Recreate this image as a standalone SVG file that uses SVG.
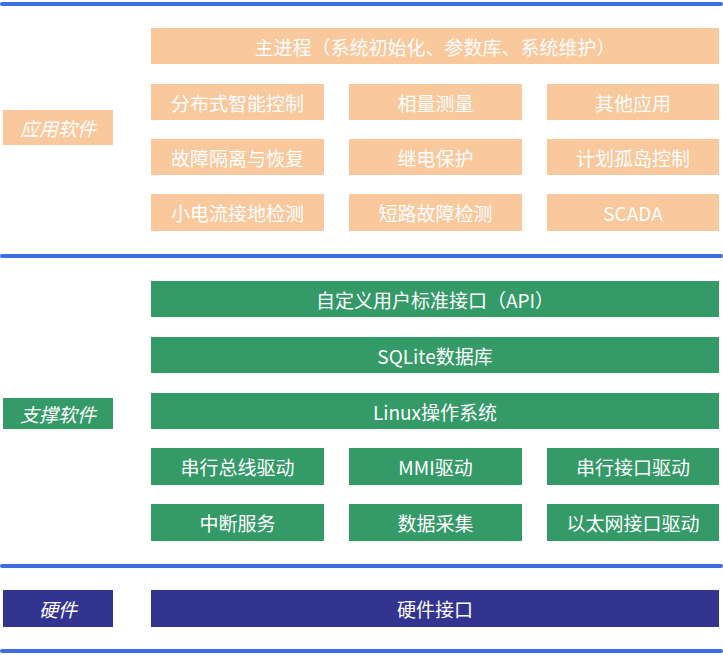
<svg xmlns="http://www.w3.org/2000/svg" width="723" height="655" viewBox="0 0 723 655">
<style>
.o{fill:#f9c89c}.g{fill:#349a68}.n{fill:#33348f}
.t{fill:#fff;font-family:"Noto Sans CJK SC","Liberation Sans",sans-serif;font-size:19px;text-anchor:middle;dominant-baseline:central}
.i{font-style:italic}
.l{stroke:#3d6fe0;stroke-width:4;stroke-linecap:round}
</style>
<g id="lines"><line class="l" x1="2" y1="4" x2="721" y2="4"/><line class="l" x1="2" y1="256" x2="721" y2="256"/><line class="l" x1="2" y1="566" x2="721" y2="566"/><line class="l" x1="2" y1="651" x2="721" y2="651"/></g>
<g id="app-label"><rect class="o" x="3" y="110" width="110" height="35"/><text class="t i" x="58" y="127.5">应用软件</text></g>
<g id="main"><rect class="o" x="151" y="28" width="568" height="36"/><text class="t" x="435" y="46">主进程（系统初始化、参数库、系统维护）</text></g>
<g id="a1"><rect class="o" x="151" y="84" width="173" height="36"/><text class="t" x="237.5" y="102">分布式智能控制</text></g>
<g id="a2"><rect class="o" x="349" y="84" width="173" height="36"/><text class="t" x="435.5" y="102">相量测量</text></g>
<g id="a3"><rect class="o" x="547" y="84" width="172" height="36"/><text class="t" x="633" y="102">其他应用</text></g>
<g id="a4"><rect class="o" x="151" y="139" width="173" height="36"/><text class="t" x="237.5" y="157">故障隔离与恢复</text></g>
<g id="a5"><rect class="o" x="349" y="139" width="173" height="36"/><text class="t" x="435.5" y="157">继电保护</text></g>
<g id="a6"><rect class="o" x="547" y="139" width="172" height="36"/><text class="t" x="633" y="157">计划孤岛控制</text></g>
<g id="a7"><rect class="o" x="151" y="194" width="173" height="37"/><text class="t" x="237.5" y="212.5">小电流接地检测</text></g>
<g id="a8"><rect class="o" x="349" y="194" width="173" height="37"/><text class="t" x="435.5" y="212.5">短路故障检测</text></g>
<g id="a9"><rect class="o" x="547" y="194" width="172" height="37"/><text class="t" x="633" y="212.5">SCADA</text></g>
<g id="sup-label"><rect class="g" x="3" y="398" width="110" height="31"/><text class="t i" x="58" y="413.5">支撑软件</text></g>
<g id="api"><rect class="g" x="151" y="281" width="568" height="36"/><text class="t" x="435" y="299">自定义用户标准接口（API）</text></g>
<g id="sqlite"><rect class="g" x="151" y="337" width="568" height="36"/><text class="t" x="435" y="355">SQLite数据库</text></g>
<g id="linux"><rect class="g" x="151" y="393" width="568" height="36"/><text class="t" x="435" y="411">Linux操作系统</text></g>
<g id="s1"><rect class="g" x="151" y="448" width="173" height="37"/><text class="t" x="237.5" y="466.5">串行总线驱动</text></g>
<g id="s2"><rect class="g" x="349" y="448" width="173" height="37"/><text class="t" x="435.5" y="466.5">MMI驱动</text></g>
<g id="s3"><rect class="g" x="547" y="448" width="172" height="37"/><text class="t" x="633" y="466.5">串行接口驱动</text></g>
<g id="s4"><rect class="g" x="151" y="504" width="173" height="37"/><text class="t" x="237.5" y="522.5">中断服务</text></g>
<g id="s5"><rect class="g" x="349" y="504" width="173" height="37"/><text class="t" x="435.5" y="522.5">数据采集</text></g>
<g id="s6"><rect class="g" x="547" y="504" width="172" height="37"/><text class="t" x="633" y="522.5">以太网接口驱动</text></g>
<g id="hw-label"><rect class="n" x="3" y="590" width="110" height="37"/><text class="t i" x="58" y="608.5">硬件</text></g>
<g id="hw"><rect class="n" x="151" y="590" width="568" height="37"/><text class="t" x="435" y="608.5">硬件接口</text></g>
</svg>
